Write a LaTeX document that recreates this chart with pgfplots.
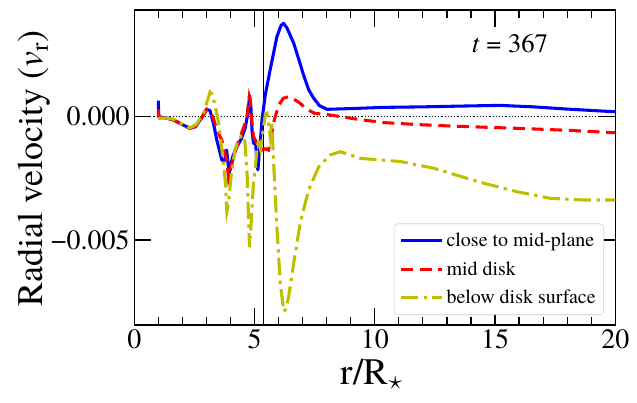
\documentclass[border=0pt]{standalone}
\usepackage{fontspec}
\setmainfont{TeX Gyre Termes}
\usepackage{pgfplots}
\pgfplotsset{compat=1.18}
\definecolor{myyellow}{RGB}{191,191,0}
\begin{document}
\begin{tikzpicture}
\begin{axis}[
  scale only axis,
  width=360.75pt, height=236.25pt,
  xmin=0, xmax=20, ymin=-0.00845, ymax=0.00433,
  xtick={0,5,10,15,20},
  minor xtick={1,2,3,4,6,7,8,9,11,12,13,14,16,17,18,19},
  ytick={-0.005,0},
  yticklabels={−0.005,0.000},
  scaled y ticks=false,
  tick align=inside,
  major tick length=12.5pt,
  minor tick length=6pt,
  every tick/.style={black, line width=0.9pt},
  axis line style={line width=1pt},
  /pgf/number format/assume math mode=true,
  ticklabel style={font=\fontsize{21}{21}\selectfont},
  xlabel={r/R$_\star$},
  ylabel={Radial velocity (\textit{v}\textsubscript{r})},
  xlabel style={font=\fontsize{28}{28}\selectfont, at={(axis description cs:0.494,-0.19)}, anchor=base},
  ylabel style={font=\fontsize{27}{27}\selectfont, at={(axis description cs:-0.19,0.497)}, anchor=base},
  legend style={at={(axis description cs:0.9765,0.0317)}, anchor=south east,
    draw=black!20, rounded corners=3pt, fill=white,
    font=\fontsize{15}{17}\selectfont, row sep=5.5pt,
    inner xsep=4pt, inner ysep=5pt},
  legend cell align=left,
  legend image code/.code={\draw[#1] (0pt,0pt) -- (31pt,0pt);},
]
\coordinate (SW) at (rel axis cs:0,0);
\addplot[black, line width=0.6pt, dash pattern=on 0.8pt off 1.6pt, forget plot] coordinates {(0,0) (20,0)};
\addplot[black, line width=0.9pt, forget plot] coordinates {(5.375,-0.00845) (5.375,0.00433)};
% close to mid-plane
\addplot[blue, line width=2.3pt, line join=round] coordinates {
(1.0,0.00065) (1.02,0.0) (1.05,-0.00002) (1.3,-0.00005) (1.63,-0.00013) (2.0,-0.00032) (2.32,-0.00047)
(2.55,-0.0004) (2.8,-0.00005) (3.0,0.0003) (3.15,0.00025) (3.3,-0.0003) (3.43,-0.00094) (3.55,-0.0014)
(3.64,-0.00176) (3.75,-0.0018) (3.84,-0.00135) (3.9,-0.0019) (3.95,-0.00228) (4.02,-0.0019) (4.1,-0.0016)
(4.27,-0.0012) (4.45,-0.0009) (4.61,-0.00047) (4.7,0.0) (4.76,0.0005) (4.8,0.00085) (4.85,0.0004)
(4.9,-0.0006) (4.96,-0.00108) (5.05,-0.0011) (5.1,-0.0019) (5.14,-0.00216) (5.22,-0.0013) (5.31,-0.00013)
(5.45,0.0009) (5.65,0.0019) (5.93,0.00324) (6.1,0.0037) (6.21,0.00379) (6.35,0.0036) (6.63,0.00298)
(6.85,0.0023) (7.04,0.00169) (7.25,0.0011) (7.46,0.00075) (7.7,0.00045) (8.02,0.0003) (9,0.00033)
(10.4,0.00038) (12,0.0004) (13.5,0.00043) (15.2,0.00046) (16.6,0.0004) (18,0.00031) (20,0.0002)};
\addlegendentry{close to mid-plane}
% mid disk
\addplot[red, line width=2.3pt, dash pattern=on 9pt off 5pt] coordinates {
(1.0,0.0003) (1.02,0.0) (1.3,-0.00005) (1.63,-0.00013) (2.0,-0.00032) (2.32,-0.00047) (2.55,-0.0004)
(2.8,-0.00005) (3.02,0.0003) (3.2,0.00015) (3.3,-0.0001) (3.43,-0.00054) (3.64,-0.00094) (3.78,-0.0015)
(3.85,-0.00176) (3.92,-0.0025) (3.97,-0.0023) (4.06,-0.0019) (4.2,-0.0014) (4.41,-0.0008) (4.6,-0.0003)
(4.68,0.0) (4.78,0.00081) (4.83,0.0006) (4.9,-0.0003) (4.96,-0.00081) (5.1,-0.00108) (5.31,-0.00135)
(5.45,-0.0013) (5.58,-0.00135) (5.68,-0.0009) (5.79,-0.00026) (6.0,0.00047) (6.2,0.00075) (6.42,0.00081)
(6.65,0.0007) (6.85,0.00058) (7.18,0.0003) (7.5,0.00014) (8.15,0.00007) (8.6,0.0) (9.4,-0.00012)
(10.4,-0.00024) (11.8,-0.00032) (13.2,-0.00038) (15.9,-0.00047) (18,-0.00055) (20,-0.00065)};
\addlegendentry{mid disk}
% below disk surface
\addplot[myyellow, line width=2.3pt, dash pattern=on 13pt off 4pt on 2.5pt off 4pt] coordinates {
(1.0,-0.00007) (1.3,-0.00005) (1.63,-0.0001) (2.0,-0.0003) (2.32,-0.00045) (2.6,-0.0003) (2.9,0.0002)
(3.15,0.001) (3.25,0.0009) (3.37,0.0004) (3.5,-0.0002) (3.58,-0.0008) (3.7,-0.0018) (3.78,-0.00257)
(3.85,-0.00385) (3.92,-0.0035) (4.01,-0.00257) (4.1,-0.0019) (4.19,-0.00135) (4.3,-0.001) (4.47,-0.00074)
(4.6,-0.001) (4.7,-0.0025) (4.79,-0.0053) (4.85,-0.0045) (4.96,-0.0026) (5.03,-0.00216) (5.1,-0.0013)
(5.17,-0.0009) (5.25,-0.0013) (5.35,-0.0006) (5.45,0.0001) (5.52,0.00014) (5.6,-0.0004) (5.65,-0.0008)
(5.72,-0.0002) (5.79,-0.00176) (5.93,-0.00446) (6.07,-0.00676) (6.22,-0.0079) (6.3,-0.0078) (6.42,-0.0073)
(6.63,-0.00594) (6.9,-0.00432) (7.25,-0.00297) (7.67,-0.00203) (8.15,-0.00155) (8.57,-0.00142)
(9.4,-0.00169) (11.07,-0.00182) (12.46,-0.00209) (13.5,-0.0024) (14.54,-0.0027) (15.9,-0.00304)
(17.3,-0.00331) (18.7,-0.00338) (20,-0.00338)};
\addlegendentry{below disk surface}
\node[font=\fontsize{20}{20}\selectfont, anchor=center] at (rel axis cs:0.781,0.895) {\textit{t} = 367};
\end{axis}
\pgfresetboundingbox
\path[use as bounding box] ([xshift=-100.7pt,yshift=-58.5pt]SW) rectangle ++(477.75pt,302.25pt);
\end{tikzpicture}
\end{document}
